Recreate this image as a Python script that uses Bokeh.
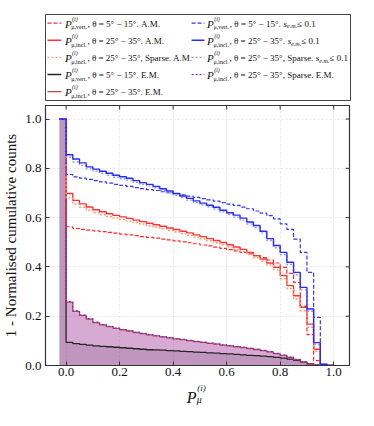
import numpy as np
from bokeh.plotting import figure
from bokeh.models import Range1d, FixedTicker, NumeralTickFormatter
from bokeh.layouts import column
from bokeh.embed import file_html
from bokeh.resources import INLINE
from bokeh.core.properties import value

# ---------------- data ----------------
bin_edges = [round(-0.025 + 0.025 * i, 3) for i in range(42)]   # -0.025 ... 1.0
x_ticks = [0.0, 0.2, 0.4, 0.6, 0.8, 1.0]
y_ticks = [0.0, 0.2, 0.4, 0.6, 0.8, 1.0]

vert_am = [1.0, .563, .556, .552, .549, .546, .543, .540, .537, .533, .530, .527, .523, .520, .517, .513, .510,
           .506, .502, .498, .494, .489, .485, .480, .475, .470, .465, .459, .453, .446, .438, .428, .416, .398,
           .374, .337, .240, .125, .020, 0, 0]
incl_am = [1.0, .698, .670, .656, .643, .632, .624, .616, .609, .603, .597, .590, .584, .577, .571, .565, .558,
           .552, .545, .538, .530, .523, .515, .507, .499, .490, .481, .471, .459, .446, .432, .416, .398, .365,
           .324, .283, .236, .168, .066, 0, 0]
incl_sparse_am = [1.0, .680, .655, .642, .630, .620, .612, .605, .598, .592, .586, .580, .574, .567, .561, .555,
                  .548, .542, .535, .528, .521, .514, .506, .498, .490, .481, .472, .462, .451, .438, .424, .408,
                  .388, .352, .312, .270, .222, .155, .058, 0, 0]
vert_em = [1.0, .094, .089, .086, .083, .080, .078, .076, .074, .072, .070, .068, .066, .064, .063, .062, .060,
           .059, .057, .056, .054, .053, .051, .050, .048, .047, .045, .043, .041, .040, .038, .036, .033, .030,
           .026, .021, .014, .007, .002, 0, 0]
incl_em = [1.0, .257, .220, .203, .188, .174, .165, .158, .151, .145, .140, .134, .129, .124, .120, .116, .112,
           .108, .105, .101, .097, .094, .090, .087, .083, .080, .076, .073, .069, .065, .060, .055, .048, .041,
           .033, .024, .014, .006, .002, 0, 0]
vert_sem = [1.0, .775, .765, .760, .755, .750, .745, .740, .735, .731, .727, .722, .718, .714, .710, .705, .701,
            .697, .692, .687, .682, .677, .672, .667, .661, .655, .650, .643, .636, .627, .618, .608, .595, .575,
            .552, .513, .459, .378, .195, .005, 0]
incl_sem = [1.0, .855, .838, .822, .806, .797, .788, .780, .772, .766, .760, .750, .742, .735, .727, .717, .708,
            .698, .688, .678, .668, .659, .650, .642, .630, .620, .610, .598, .582, .568, .545, .515, .487, .459,
            .419, .378, .317, .229, .093, .005, 0]
incl_sparse_sem = [1.0, .845, .826, .812, .798, .789, .780, .772, .764, .758, .752, .743, .735, .728, .720, .710,
                   .701, .691, .682, .671, .661, .651, .643, .635, .623, .613, .602, .590, .574, .559, .537, .507,
                   .478, .450, .410, .368, .307, .220, .085, .005, 0]
incl_sparse_em = [1.0, .259, .222, .205, .190, .176, .166, .159, .152, .146, .141, .135, .130, .125, .121, .117,
                  .113, .109, .106, .102, .098, .095, .091, .088, .084, .081, .077, .074, .070, .066, .061, .056,
                  .049, .042, .034, .025, .015, .007, .002, 0, 0]

# label pieces: (subscript, remainder, tail after s_e.m.)
labels = [
    ("μ,vert.", ", θ = 5° − 15°. A.M.", None),
    ("μ,incl.", ", θ = 25° − 35°. A.M.", None),
    ("μ,incl.", ", θ = 25° − 35°, Sparse. A.M.", None),
    ("μ,vert.", ", θ = 5° − 15°. E.M.", None),
    ("μ,incl.", ", θ = 25° − 35°. E.M.", None),
    ("μ,vert.", ", θ = 5° − 15°. ", " ≤ 0.1"),
    ("μ,incl.", ", θ = 25° − 35°. ", " ≤ 0.1"),
    ("μ,incl.", ", θ = 25° − 35°, Sparse. ", " ≤ 0.1"),
    ("μ,incl.", ", θ = 25° − 35°, Sparse. E.M.", None),
]
series_values = [vert_am, incl_am, incl_sparse_am, vert_em, incl_em, vert_sem, incl_sem, incl_sparse_sem, incl_sparse_em]
styles = [
    dict(color="#ff2a2a", dash="4 2", width=1.2),
    dict(color="#ff3333", dash="solid", width=1.4),
    dict(color="#ff9a6a", dash="2 2", width=1.4),
    dict(color="#262626", dash="solid", width=1.3),
    dict(color="#b84848", dash="solid", width=1.3),
    dict(color="#3535ff", dash="4 2", width=1.2),
    dict(color="#2a2aff", dash="solid", width=1.4),
    dict(color="#8c9cff", dash="2 2", width=1.4),
    dict(color="#7a2cc8", dash="2 2", width=1.2),
]
draw_order = [3, 4, 8, 0, 1, 2, 5, 7, 6]

FONT = "Liberation Serif"
INK = "#111111"
EDGE = "#333333"

# ---------------- main plot ----------------
x0d, x1d = -0.077, 1.059
y0d, y1d = 0.0, 1.055
FW, FH = 310, 260
p = figure(width=357, height=278, x_range=Range1d(x0d, x1d), y_range=Range1d(y0d, y1d),
           output_backend="svg", toolbar_location=None,
           min_border_left=41, min_border_right=6, min_border_top=1, min_border_bottom=17)
p.background_fill_color = "white"
p.border_fill_color = "white"
p.outline_line_color = EDGE
p.outline_line_width = 1.2

for ax in (p.xaxis[0], p.yaxis[0]):
    ax.major_tick_in = 4
    ax.major_tick_out = 0
    ax.minor_tick_in = 0
    ax.minor_tick_out = 0
    ax.major_label_text_font = FONT
    ax.major_label_text_font_size = "13px"
    ax.major_label_text_color = INK
    ax.axis_line_color = EDGE
    ax.major_tick_line_color = EDGE
    ax.formatter = NumeralTickFormatter(format="0.0")
p.xaxis.ticker = FixedTicker(ticks=x_ticks)
p.yaxis.ticker = FixedTicker(ticks=y_ticks)
p.xaxis.major_label_standoff = 2
p.yaxis.major_label_standoff = 4
ya = p.yaxis[0]
ya.axis_label = "1 - Normalised cumulative counts"
ya.axis_label_text_font = FONT
ya.axis_label_text_font_style = "normal"
ya.axis_label_text_font_size = "15px"
ya.axis_label_text_color = INK
ya.axis_label_standoff = 3

p.grid.grid_line_color = "#e2e2e2"
p.grid.grid_line_dash = "2 2"
p.grid.grid_line_width = 0.8
p.xgrid.ticker = FixedTicker(ticks=x_ticks)
p.ygrid.ticker = FixedTicker(ticks=y_ticks)

# inward ticks on the top and right edges
tlen_y = 4 * (y1d - y0d) / FH
tlen_x = 4 * (x1d - x0d) / FW
nx = len(x_ticks)
p.segment(x0=x_ticks, y0=[y1d] * nx, x1=x_ticks, y1=[y1d - tlen_y] * nx, line_color=EDGE, line_width=1)
p.segment(x0=[x1d] * len(y_ticks), y0=y_ticks, x1=[x1d - tlen_x] * len(y_ticks), y1=y_ticks,
          line_color=EDGE, line_width=1)

# fills
zeros = [0.0] * len(bin_edges)
p.varea_step(x=bin_edges, y1=zeros, y2=incl_sparse_em + [incl_sparse_em[-1]], step_mode="after",
             fill_color="#9b2b94", fill_alpha=0.4)
p.varea_step(x=bin_edges, y1=zeros, y2=vert_em + [vert_em[-1]], step_mode="after",
             fill_color="#2a1030", fill_alpha=0.13)


def step_path(vals):
    xs, ys = [bin_edges[0]], [vals[0]]
    for i in range(1, len(vals)):
        xs += [bin_edges[i], bin_edges[i]]
        ys += [vals[i - 1], vals[i]]
    xs.append(bin_edges[len(vals)])
    ys.append(vals[-1])
    return xs, ys


for i in draw_order:
    xs, ys = step_path(series_values[i])
    st = styles[i]
    p.line(xs, ys, line_color=st["color"], line_dash=st["dash"], line_width=st["width"])

# ---------------- x-axis label strip: P_mu^(i) ----------------
XH = 28
xl = figure(width=357, height=XH, x_range=p.x_range, y_range=Range1d(XH, 0),
            output_backend="svg", toolbar_location=None, x_axis_type=None, y_axis_type=None,
            min_border_left=41, min_border_right=6, min_border_top=0, min_border_bottom=0)
xl.outline_line_color = None
xl.grid.visible = False
xl.background_fill_color = "white"
xl.border_fill_color = "white"
xl.text(x=[0.469], y=[15], text=["P"], text_font=value(FONT), text_font_style="italic",
        text_font_size="16px", text_align="center", text_baseline="alphabetic", text_color=INK)
xl.text(x=[0.490], y=[0.5], text=["(i)"], text_font=value(FONT), text_font_style="italic",
        text_font_size="9px", text_align="left", text_baseline="top", text_color=INK)
xl.text(x=[0.488], y=[17], text=["μ"], text_font=value(FONT), text_font_style="italic",
        text_font_size="10px", text_align="left", text_baseline="alphabetic", text_color=INK)

# ---------------- legend figure (its frame is the legend box) ----------------
BW, BH = 309, 86
leg = figure(width=358, height=104, x_range=Range1d(0, BW), y_range=Range1d(BH, 0),
             output_backend="svg", toolbar_location=None, x_axis_type=None, y_axis_type=None,
             min_border_left=41, min_border_right=8, min_border_top=14, min_border_bottom=4)
leg.outline_line_color = "#444444"
leg.outline_line_width = 1
leg.grid.visible = False
leg.background_fill_color = "white"
leg.border_fill_color = "white"

W = {' ': .25, ',': .25, '.': .25, 'θ': .5, '=': .564, '−': .564, '°': .4, '≤': .549, 'A': .722, 'M': .889,
     'E': .611, 'S': .556, 'a': .444, 'e': .444, 'm': .778, 'p': .5, 'r': .333, 's': .389, 'μ': .576,
     'v': .5, 't': .278, 'i': .278, 'n': .5, 'c': .444, 'l': .278}


def tw(s, size):
    return sum(W.get(c, 0.5) for c in s) * size


row_y = [8.7, 25.8, 42.9, 60.0, 77.1]
col_handle = [(2, 16), (148, 161)]
col_text = [19.7, 163.7]
REM, PSZ = 9, 11

for k, (sub, rem, tail) in enumerate(labels):
    col = 0 if k < 5 else 1
    y = row_y[k if k < 5 else k - 5]
    st = styles[k]
    hx0, hx1 = col_handle[col]
    leg.segment(x0=[hx0], y0=[y], x1=[hx1], y1=[y], line_color=st["color"], line_dash=st["dash"],
                line_width=st["width"])
    x0 = col_text[col]
    leg.text(x=[x0], y=[y + 0.5], text=["P"], text_font=value(FONT), text_font_style="italic",
             text_font_size=f"{PSZ}px", text_baseline="middle", text_color=INK)
    leg.text(x=[x0 + 7.2], y=[y - 4.5], text=["(i)"], text_font=value(FONT), text_font_style="italic",
             text_font_size="6px", text_baseline="middle", text_color=INK)
    leg.text(x=[x0 + 6.5], y=[y + 4.2], text=[sub], text_font=value(FONT),
             text_font_size="6px", text_baseline="middle", text_color=INK)
    xr = x0 + 6.5 + tw(sub, 6) + 0.8
    leg.text(x=[xr], y=[y + 0.5], text=[rem], text_font=value(FONT),
             text_font_size=f"{REM}px", text_baseline="middle", text_color=INK)
    if tail is not None:
        xs_ = xr + tw(rem, REM) + 1
        leg.text(x=[xs_], y=[y + 0.5], text=["s"], text_font=value(FONT), text_font_style="italic",
                 text_font_size=f"{REM}px", text_baseline="middle", text_color=INK)
        leg.text(x=[xs_ + 3.6], y=[y + 3.2], text=["e.m."], text_font=value(FONT), text_font_style="italic",
                 text_font_size="6px", text_baseline="middle", text_color=INK)
        leg.text(x=[xs_ + 3.6 + tw("e.m.", 6)], y=[y + 0.5], text=[tail], text_font=value(FONT),
                 text_font_size=f"{REM}px", text_baseline="middle", text_color=INK)

layout = column(leg, p, xl, spacing=0)
open("out.html", "w").write(file_html(layout, INLINE))
